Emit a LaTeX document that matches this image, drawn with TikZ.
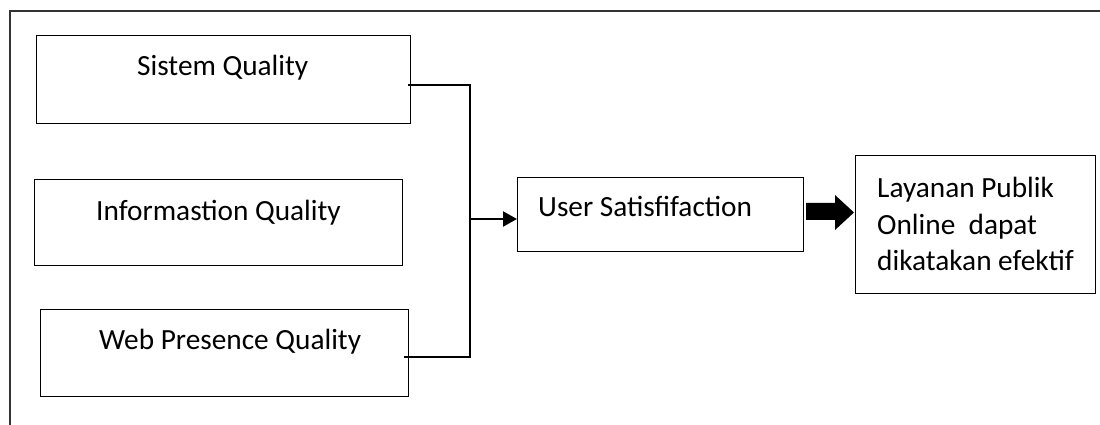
\documentclass[tikz,border=0pt]{standalone}
\usepackage{fontspec}
\setmainfont{Carlito}
\usetikzlibrary{arrows.meta,calc}
\begin{document}
\begin{tikzpicture}[x=1pt,y=1pt,
  box/.style={draw=black,line width=1pt,inner sep=0pt,anchor=north west},
  lbl/.style={font=\fontsize{29.3}{36.5}\selectfont,inner sep=0pt,anchor=base west},
  link/.style={line width=2.2pt,line join=miter}]
\useasboundingbox (0,0) rectangle (1100,425);
% outer frame (top and left edges)
\draw[line width=1.4pt,black!80] (10,0) -- (10,414) -- (1100,414);

% quality factor boxes
\node[box,minimum width=374,minimum height=88] (sq) at (36,390) {};
\node[lbl] (sqt) at (137,349) {Sistem Quality};
\node[box,minimum width=368,minimum height=86] (iq) at (34,246) {};
\node[lbl] (iqt) at (96,204) {Informastion Quality};
\node[box,minimum width=368,minimum height=87] (wq) at (40,116) {};
\node[lbl] (wqt) at (99,75) {Web Presence Quality};

% user satisfaction box
\node[box,minimum width=286,minimum height=74] (us) at (517,248) {};
\node[lbl] (ust) at (538,208) {User Satisfifaction};

% outcome box (multi-line label anchored on its last baseline)
\node[box,minimum width=240,minimum height=138] (lp) at (855,270) {};
\node[lbl,align=left] (lpt) at (877,154) {Layanan Publik\\Online\ \ dapat\\dikatakan efektif};

% bracket connector joining the top and bottom boxes
\coordinate (a) at ($(sq.north east)+(-3,-50)$);
\coordinate (b) at ($(wq.north east)+(-5,-48)$);
\coordinate (jt) at (470,340);
\coordinate (jb) at (470,68);
\coordinate (j) at (470,206);
\draw[link] (a) -- (jt) -- (jb) -- (b);
\draw[link,-{Triangle[length=14pt,width=15pt]}] (j) -- (j -| us.west);

% block arrow to the outcome box
\fill[black] (806,222) -- (835,222) -- (835,230) -- (854,212.5)
  -- (835,195) -- (835,205) -- (806,205) -- cycle;
\end{tikzpicture}
\end{document}
